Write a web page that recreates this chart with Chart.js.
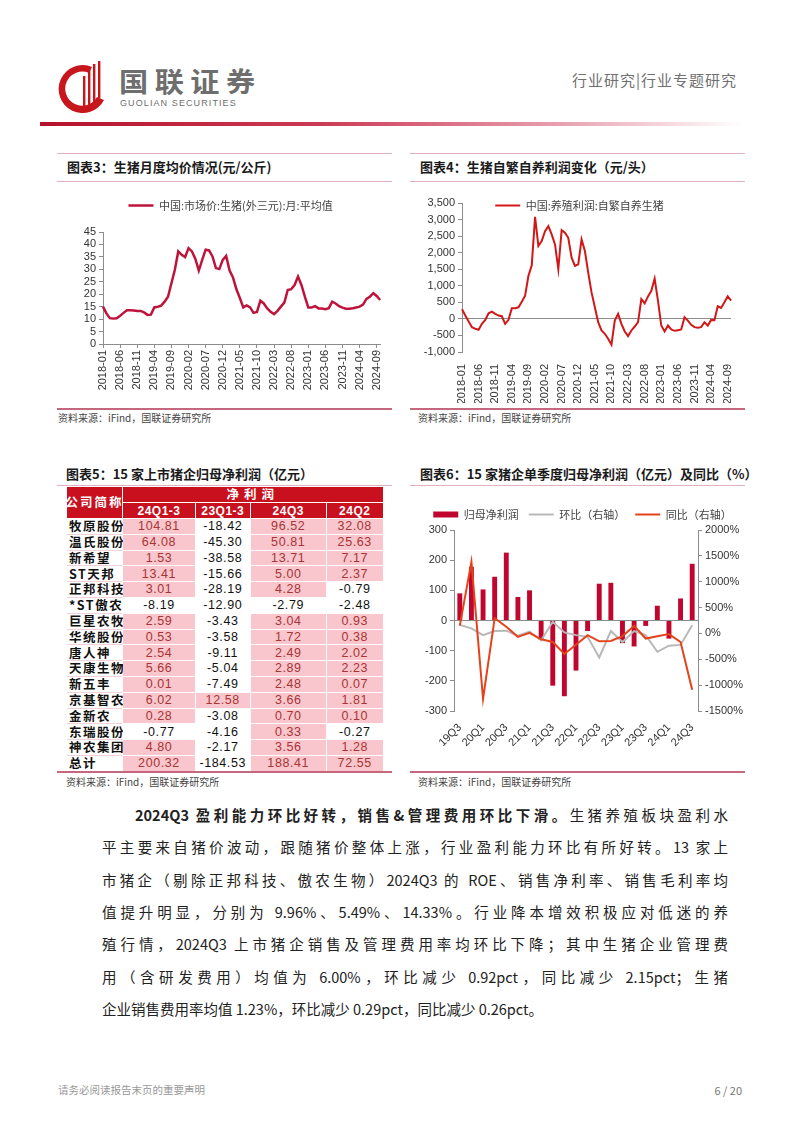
<!DOCTYPE html>
<html>
<head>
<meta charset="utf-8">
<script src="https://cdn.jsdelivr.net/npm/chart.js@4.4.0/dist/chart.umd.min.js"></script>
<style>
  body { margin: 0; background: #fff; font-family: "Noto Sans CJK SC", sans-serif; }
  #page { position: relative; width: 802px; height: 1133px; overflow: hidden; background: #fff; }
  .abs { position: absolute; }
  .rule { position: absolute; height: 1px; background: #e3b2bf; }
  .rule2 { position: absolute; height: 2px; background: #c4677f; }
  .ttl { position: absolute; font-size: 13px; font-weight: 700; color: #1a1a1a; white-space: nowrap; line-height: 16px; }
  .src { position: absolute; font-size: 10px; color: #444; white-space: nowrap; line-height: 12px; }
  .box { position: absolute; }
  .cell { position: absolute; box-sizing: border-box; display: flex; align-items: center; justify-content: center;
          font-size: 12.5px; line-height: 1; white-space: nowrap; border-right: 1px solid #fff; border-bottom: 1px solid #fff; }
  .hdr { background: #c8101e; color: #fff; font-weight: 700; }
  .name { justify-content: flex-start; padding-left: 2px; font-weight: 700; letter-spacing: 1.5px; color: #111;
          background: #fff; border-bottom: 1px solid #f1d2d7; }
  .txt { position: absolute; left: 102px; width: 626px; font-size: 14.5px; color: #222; height: 32.3px; line-height: 32.3px;
         text-align: justify; text-align-last: justify; }
</style>
</head>
<body>
<div id="page">
  <!-- 页眉 -->
  <svg class="abs" style="left:58px;top:60px" width="50" height="54" viewBox="0 0 50 54">
    <path d="M34 7 A24 24 0 1 0 46 40 L39 37 A17 17 0 1 1 31 13 Z" fill="#c8161d"/>
    <rect x="25" y="16" width="2.4" height="30" fill="#c8161d"/>
    <rect x="30" y="10" width="2.4" height="36" fill="#c8161d"/>
    <rect x="35" y="4" width="2.4" height="40" fill="#c8161d"/>
    <rect x="40" y="1" width="2.4" height="37" fill="#c8161d"/>
  </svg>
  <div class="abs" style="left:119px;top:64px;font-size:27px;font-weight:700;color:#6e6e6e;letter-spacing:6px;transform:scaleX(1.08);transform-origin:left;white-space:nowrap;line-height:34px;">国联证券</div>
  <div class="abs" style="left:120px;top:98px;font-family:'Liberation Sans',Arial,sans-serif;font-size:9px;color:#6e6e6e;letter-spacing:1.1px;white-space:nowrap;line-height:10px;">GUOLIAN SECURITIES</div>
  <div class="abs" style="left:572px;top:70px;font-size:15px;color:#707070;letter-spacing:1px;white-space:nowrap;line-height:20px;">行业研究|行业专题研究</div>
  <div class="abs" style="left:40px;top:122px;width:702px;height:4px;background:linear-gradient(to right,#b5122b 0%,#cc3a55 40%,#e9a3b3 75%,#ffffff 100%);"></div>

  <!-- 图表3 -->
  <div class="rule" style="left:57px;top:153px;width:335px;"></div>
  <div class="ttl" style="left:67px;top:159px;">图表3：生猪月度均价情况(元/公斤)</div>
  <div class="rule" style="left:57px;top:181px;width:335px;"></div>
  <div class="box" style="left:57px;top:185px;width:335px;height:218px;"><canvas id="c3"></canvas></div>
  <div class="rule2" style="left:57px;top:408px;width:335px;"></div>
  <div class="src" style="left:58px;top:412px;">资料来源：iFind，国联证券研究所</div>

  <!-- 图表4 -->
  <div class="rule" style="left:410px;top:153px;width:335px;"></div>
  <div class="ttl" style="left:420px;top:159px;">图表4：生猪自繁自养利润变化（元/头）</div>
  <div class="rule" style="left:410px;top:181px;width:335px;"></div>
  <div class="box" style="left:410px;top:185px;width:335px;height:218px;"><canvas id="c4"></canvas></div>
  <div class="rule2" style="left:410px;top:408px;width:335px;"></div>
  <div class="src" style="left:418px;top:412px;">资料来源：iFind，国联证券研究所</div>

  <!-- 图表5 -->
  <div class="ttl" style="left:66px;top:466px;">图表5：15 家上市猪企归母净利润（亿元）</div>
  <div class="rule" style="left:57px;top:485px;width:335px;"></div>
  <div id="tbl" class="abs" style="left:0;top:0;"></div>
  <div class="rule2" style="left:57px;top:771px;width:335px;"></div>
  <div class="src" style="left:66px;top:776px;">资料来源：iFind，国联证券研究所</div>

  <!-- 图表6 -->
  <div class="ttl" style="left:420px;top:466px;">图表6：15 家猪企单季度归母净利润（亿元）及同比（%）</div>
  <div class="rule" style="left:410px;top:485px;width:335px;"></div>
  <div class="box" style="left:410px;top:499px;width:345px;height:262px;"><canvas id="c6"></canvas></div>
  <div class="rule2" style="left:410px;top:771px;width:335px;"></div>
  <div class="src" style="left:418px;top:776px;">资料来源：iFind，国联证券研究所</div>

  <!-- 正文 -->
  <div class="txt" style="top:799px;left:135px;width:593px;"><b>2024Q3 盈利能力环比好转，销售&amp;管理费用环比下滑。</b>生猪养殖板块盈利水</div>
  <div class="txt" style="top:831.3px;">平主要来自猪价波动，跟随猪价整体上涨，行业盈利能力环比有所好转。13 家上</div>
  <div class="txt" style="top:863.6px;">市猪企（剔除正邦科技、傲农生物）2024Q3 的 ROE、销售净利率、销售毛利率均</div>
  <div class="txt" style="top:895.9px;">值提升明显，分别为 9.96%、5.49%、14.33%。行业降本增效积极应对低迷的养</div>
  <div class="txt" style="top:928.2px;">殖行情，2024Q3 上市猪企销售及管理费用率均环比下降；其中生猪企业管理费</div>
  <div class="txt" style="top:960.5px;">用（含研发费用）均值为 6.00%，环比减少 0.92pct，同比减少 2.15pct；生猪</div>
  <div class="txt" style="top:992.8px;text-align-last:left;">企业销售费用率均值 1.23%，环比减少 0.29pct，同比减少 0.26pct。</div>

  <!-- 页脚 -->
  <div class="abs" style="left:58px;top:1083px;font-size:10.5px;color:#999;white-space:nowrap;line-height:14px;">请务必阅读报告末页的重要声明</div>
  <div class="abs" style="left:700px;top:1083px;width:42px;text-align:right;font-size:11px;color:#777;white-space:nowrap;line-height:14px;">6 / 20</div>
</div>

<script>
// ---- 图表3：生猪月度均价（元/公斤），2018-01 ~ 2024-10
const monthLabels = [];
for (let y = 2018; y <= 2024; y++) {
    for (let m = 1; m <= 12; m++) {
        if (y === 2024 && m > 10) break;
        monthLabels.push(y + '-' + String(m).padStart(2, '0'));
    }
}
const priceValues = [
    15.0, 12.3, 10.4, 10.2, 10.3, 11.3, 12.5, 13.6, 13.6, 13.5, 13.3, 13.3,
    12.7, 11.7, 11.8, 14.7, 15.0, 15.4, 17.0, 19.0, 24.4, 29.8, 37.2, 35.8,
    34.9, 38.5, 37.2, 34.2, 29.5, 33.8, 37.9, 37.6, 35.2, 30.5, 30.1, 33.8,
    35.4, 29.5, 26.7, 22.0, 18.5, 14.7, 15.5, 14.7, 12.5, 12.9, 17.4, 16.3,
    14.3, 12.9, 12.0, 13.3, 15.0, 16.6, 21.7, 22.0, 23.7, 27.1, 23.7, 19.0,
    14.7, 14.7, 15.2, 14.3, 14.3, 14.0, 14.4, 17.0, 16.3, 15.2, 14.6, 14.2,
    14.2, 14.4, 14.7, 15.0, 15.8, 18.1, 19.0, 20.4, 19.3, 17.7
];
const priceTicks = { min: 0, max: 45, step: 5 };

// ---- 图表4：自繁自养利润（元/头）
const profitValues = [
    290, 100, -80, -250, -300, -330, -150, -30, 170, 220, 150, 100,
    80, -150, -30, 320, 320, 350, 520, 700, 1300, 1620, 3080, 2200,
    2350, 2650, 2800, 2550, 2250, 1500, 2680, 2600, 2450, 1850, 1600, 1650,
    2400, 2050, 1400, 800, 350, -100, -350, -450, -600, -780, -50, 150,
    -150, -380, -520, -350, -230, -100, 600, 470, 680, 850, 1220, 550,
    -200, -380, -200, -320, -360, -340, -320, 50, -50, -180, -250, -270,
    -250, -100, -200, -30, -40, 380, 330, 500, 680, 550
];
const profitTicks = { min: -1000, max: 3500, step: 500 };

// ---- 图表5：15 家上市猪企归母净利润（亿元）
const companies = ['牧原股份', '温氏股份', '新希望', 'ST天邦', '正邦科技', '*ST傲农', '巨星农牧', '华统股份',
    '唐人神', '天康生物', '新五丰', '京基智农', '金新农', '东瑞股份', '神农集团', '总计'];
const periods = ['24Q1-3', '23Q1-3', '24Q3', '24Q2'];
const np24Q1_3 = [104.81, 64.08, 1.53, 13.41, 3.01, -8.19, 2.59, 0.53, 2.54, 5.66, 0.01, 6.02, 0.28, -0.77, 4.80, 200.32];
const np23Q1_3 = [-18.42, -45.30, -38.58, -15.66, -28.19, -12.90, -3.43, -3.58, -9.11, -5.04, -7.49, 12.58, -3.08, -4.16, -2.17, -184.53];
const np24Q3 = [96.52, 50.81, 13.71, 5.00, 4.28, -2.79, 3.04, 1.72, 2.49, 2.89, 2.48, 3.66, 0.70, 0.33, 3.56, 188.41];
const np24Q2 = [32.08, 25.63, 7.17, 2.37, -0.79, -2.48, 0.93, 0.38, 2.02, 2.23, 0.07, 1.81, 0.10, -0.27, 1.28, 72.55];

// ---- 图表6：单季度归母净利润（亿元）及同比/环比（%）
const quarters = ['19Q3', '19Q4', '20Q1', '20Q2', '20Q3', '20Q4', '21Q1', '21Q2', '21Q3', '21Q4', '22Q1',
    '22Q2', '22Q3', '22Q4', '23Q1', '23Q2', '23Q3', '23Q4', '24Q1', '24Q2', '24Q3'];
const quarterProfit = [90, 178, 103, 145, 225, 78, 100, -62, -216, -251, -166, -35, 122, 125, -75, -86, -18, 49, -60, 73, 188];
const qoqPct = [166, 99, -33, 46, 53, -46, 33, -133, 225, 20, -33, -66, -464, 46, -166, 46, -33, -355, -236, -222, 160];
const yoyPct = [150, 1383, -1268, 295, 130, -66, 13, -113, -166, -398, -219, -33, -152, -146, -53, 146, -99, -53, -13, -166, -1088];

Chart.defaults.font.family = '"Liberation Sans", Arial, sans-serif';
Chart.defaults.font.size = 11;
Chart.defaults.color = '#333';
const AXIS = '#8c8c8c';
const cjkFont = { family: '"Noto Sans CJK SC", sans-serif', size: 11 };

// 图例挂在绘图区上，横排绘制；dy 为相对绘图区顶部的偏移，dRight 收窄右边界让图例略偏左
function legendInPlot(dy, dRight) {
    return {
        id: 'legendInPlot',
        beforeInit(chart) {
            chart.legend.isHorizontal = () => true;
        },
        afterLayout(chart) {
            const lg = chart.legend, area = chart.chartArea;
            lg.left = area.left;
            lg.right = area.right - dRight;
            lg.top = area.top + dy;
        }
    };
}

// 图表3
new Chart(document.getElementById('c3'), {
    type: 'line',
    data: {
        labels: monthLabels,
        datasets: [{
            label: '中国:市场价:生猪(外三元):月:平均值',
            data: priceValues,
            borderColor: '#be143c',
            backgroundColor: '#be143c',
            borderWidth: 2.5,
            pointRadius: 0,
            tension: 0
        }]
    },
    plugins: [legendInPlot(-32, 22)],
    options: {
        responsive: true, maintainAspectRatio: false, animation: false,
        layout: { padding: { left: 0, right: 8, top: 47, bottom: 0 } },
        plugins: {
            legend: {
                position: 'chartArea',
                align: 'center',
                labels: { usePointStyle: true, pointStyle: 'line', pointStyleWidth: 25, boxHeight: 8, padding: 0, font: cjkFont, color: '#444' }
            },
            tooltip: { enabled: false }
        },
        scales: {
            x: {
                afterFit: (s) => { s.height = 59; },
                border: { color: AXIS },
                grid: { drawOnChartArea: false, tickLength: 4, color: AXIS },
                ticks: {
                    autoSkip: false, minRotation: 90, maxRotation: 90, padding: 2,
                    callback: function(v, i) { return i % 5 === 0 ? this.getLabelForValue(v) : null; }
                }
            },
            y: {
                min: priceTicks.min, max: priceTicks.max,
                afterFit: (s) => { s.width = 46; },
                border: { color: AXIS },
                grid: { drawOnChartArea: false, tickLength: 4, color: AXIS },
                ticks: { stepSize: priceTicks.step, autoSkip: false, padding: 3 }
            }
        }
    }
});

// 图表4（图例叠在绘图区顶部）
new Chart(document.getElementById('c4'), {
    type: 'line',
    data: {
        labels: monthLabels,
        datasets: [{
            label: '中国:养殖利润:自繁自养生猪',
            data: profitValues,
            borderColor: '#d01818',
            backgroundColor: '#d01818',
            borderWidth: 2,
            pointRadius: 0,
            tension: 0
        }]
    },
    plugins: [legendInPlot(-3, 34)],
    options: {
        responsive: true, maintainAspectRatio: false, animation: false,
        layout: { padding: { left: 0, right: 7, top: 18, bottom: 0 } },
        plugins: {
            legend: {
                position: 'chartArea',
                align: 'center',
                labels: { usePointStyle: true, pointStyle: 'line', pointStyleWidth: 25, boxHeight: 8, padding: 0, font: cjkFont, color: '#444' }
            },
            tooltip: { enabled: false }
        },
        scales: {
            x: {
                afterFit: (s) => { s.height = 51; },
                border: { display: false },
                grid: { display: false },
                ticks: {
                    autoSkip: false, minRotation: 90, maxRotation: 90, padding: 4,
                    callback: function(v, i) { return i % 5 === 0 ? this.getLabelForValue(v) : null; }
                }
            },
            y: {
                min: profitTicks.min, max: profitTicks.max,
                afterFit: (s) => { s.width = 52; },
                border: { color: AXIS },
                grid: {
                    color: (c) => c.tick && c.tick.value === 0 ? AXIS : 'rgba(0,0,0,0)',
                    tickColor: AXIS, tickLength: 4
                },
                ticks: { stepSize: profitTicks.step, autoSkip: false, padding: 3, callback: (v) => v.toLocaleString('en-US') }
            }
        }
    }
});

// 图表5：表格
(function buildTable() {
    const tbl = document.getElementById('tbl');
    const colX = [67, 123, 196, 250.5, 327, 383.5];
    const headTop = 487, headH = 16, rowTop = 519, rowH = 15.8;
    const cols = [np24Q1_3, np23Q1_3, np24Q3, np24Q2];
    function cell(cls, x, y, w, h, text, style) {
        const d = document.createElement('div');
        d.className = 'cell ' + cls;
        d.style.left = x + 'px'; d.style.top = y + 'px';
        d.style.width = w + 'px'; d.style.height = h + 'px';
        d.textContent = text;
        if (style) Object.assign(d.style, style);
        tbl.appendChild(d);
    }
    cell('hdr', colX[0], headTop, colX[1] - colX[0], headH * 2, '公司简称', { letterSpacing: '2px', fontSize: '12.5px' });
    cell('hdr', colX[1], headTop, colX[5] - colX[1], headH, '净利润', { letterSpacing: '5px', fontSize: '12.5px' });
    periods.forEach((p, j) => cell('hdr', colX[j + 1], headTop + headH, colX[j + 2] - colX[j + 1], headH, p,
        { fontFamily: '"Liberation Sans", Arial, sans-serif', fontSize: '12px', letterSpacing: '0.5px' }));
    companies.forEach((name, i) => {
        const y = rowTop + i * rowH;
        cell('name', colX[0], y, colX[1] - colX[0], rowH, name);
        cols.forEach((col, j) => {
            const v = col[i];
            cell('', colX[j + 1], y, colX[j + 2] - colX[j + 1], rowH, v.toFixed(2), {
                background: v >= 0 ? '#f8c6cc' : '#ffffff',
                color: v >= 0 ? '#a83434' : '#111',
                fontFamily: '"Liberation Sans", Arial, sans-serif',
                letterSpacing: '0.6px'
            });
        });
    });
})();

// 图表6
new Chart(document.getElementById('c6'), {
    data: {
        labels: quarters,
        datasets: [
            { type: 'bar', label: '归母净利润', data: quarterProfit, backgroundColor: '#c0062f', borderWidth: 0,
              yAxisID: 'y', order: 3, barPercentage: 0.68, categoryPercentage: 0.62 },
            { type: 'line', label: '环比（右轴）', data: qoqPct, borderColor: '#b8b8b8', backgroundColor: '#b8b8b8',
              borderWidth: 2, pointRadius: 0, tension: 0, yAxisID: 'y1', order: 2 },
            { type: 'line', label: '同比（右轴）', data: yoyPct, borderColor: '#e5421a', backgroundColor: '#e5421a',
              borderWidth: 2, pointRadius: 0, tension: 0, yAxisID: 'y1', order: 1 }
        ]
    },
    options: {
        responsive: true, maintainAspectRatio: false, animation: false,
        layout: { padding: { left: 0, right: 0, top: 0, bottom: 0 } },
        plugins: {
            legend: {
                labels: {
                    usePointStyle: true, pointStyleWidth: 25, boxHeight: 6, padding: 10, font: cjkFont, color: '#444',
                    sort: (a, b) => a.datasetIndex - b.datasetIndex,
                    generateLabels(chart) {
                        const items = Chart.defaults.plugins.legend.labels.generateLabels(chart);
                        items.forEach((it) => { it.pointStyle = it.datasetIndex === 0 ? 'rect' : 'line'; });
                        return items;
                    }
                }
            },
            tooltip: { enabled: false }
        },
        scales: {
            x: {
                afterFit: (s) => { s.height = 50; },
                border: { display: false },
                grid: { display: false },
                ticks: {
                    autoSkip: false, minRotation: 45, maxRotation: 45, padding: 2,
                    callback: function(v, i) { return i % 2 === 0 ? this.getLabelForValue(v) : null; }
                }
            },
            y: {
                position: 'left', min: -300, max: 300,
                afterFit: (s) => { s.width = 44; },
                border: { color: AXIS },
                grid: {
                    color: (c) => c.tick && c.tick.value === 0 ? AXIS : 'rgba(0,0,0,0)',
                    tickColor: AXIS, tickLength: 4
                },
                ticks: { stepSize: 100, autoSkip: false, padding: 3 }
            },
            y1: {
                position: 'right', min: -1500, max: 2000,
                afterFit: (s) => { s.width = 57; },
                border: { color: AXIS },
                grid: { drawOnChartArea: false, tickColor: AXIS, tickLength: 4 },
                ticks: { stepSize: 500, autoSkip: false, padding: 3, callback: (v) => v + '%' }
            }
        }
    }
});
</script>
</body>
</html>
